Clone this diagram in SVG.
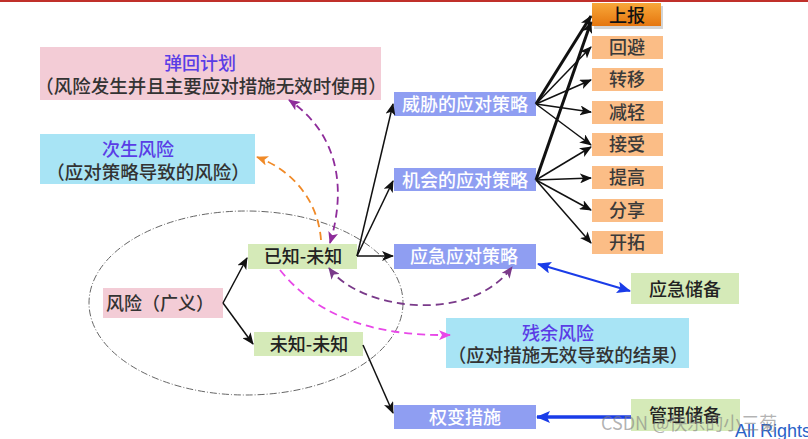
<svg xmlns="http://www.w3.org/2000/svg" width="808" height="439" viewBox="0 0 808 439">
<defs>
<style>
text{font-family:"Noto Sans CJK SC","Noto Sans",sans-serif;font-size:18px;text-anchor:middle;font-weight:500}
.blue rect{fill:#8f9ef2}
.blue text{fill:#fff}
.or rect{fill:#fbbd86}
.or text{fill:#3a3a3a}
.gr rect{fill:#d5eab8}
.gr text{fill:#222}
.pk{fill:#f3ccd6}
.lb{fill:#a8e4f5}
.ttl{fill:#5a3de6}
.sub{fill:#333;font-size:18.5px}
.c line{stroke:#111;stroke-width:1.5;marker-end:url(#ah)}
.c line.thick{stroke-width:3}
.d{fill:none;stroke-width:1.8;stroke-dasharray:8 5}
</style>
<marker id="ah" markerUnits="userSpaceOnUse" markerWidth="12" markerHeight="10" refX="11" refY="5" orient="auto-start-reverse"><path d="M0,0 L12,5 L0,10 L3,5 z" fill="#111"/></marker>
<marker id="ap" markerUnits="userSpaceOnUse" markerWidth="12" markerHeight="10" refX="11" refY="5" orient="auto-start-reverse"><path d="M0,0 L12,5 L0,10 L3,5 z" fill="#8e2c9a"/></marker>
<marker id="ap2" markerUnits="userSpaceOnUse" markerWidth="12" markerHeight="10" refX="11" refY="5" orient="auto-start-reverse"><path d="M0,0 L12,5 L0,10 L3,5 z" fill="#7a3a8a"/></marker>
<marker id="ao" markerUnits="userSpaceOnUse" markerWidth="12" markerHeight="10" refX="11" refY="5" orient="auto-start-reverse"><path d="M0,0 L12,5 L0,10 L3,5 z" fill="#f08a28"/></marker>
<marker id="am" markerUnits="userSpaceOnUse" markerWidth="12" markerHeight="10" refX="11" refY="5" orient="auto-start-reverse"><path d="M0,0 L12,5 L0,10 L3,5 z" fill="#e848e8"/></marker>
<marker id="ab" markerUnits="userSpaceOnUse" markerWidth="14" markerHeight="12" refX="13" refY="6" orient="auto-start-reverse"><path d="M0,0 L14,6 L0,12 L3,6 z" fill="#1a3ce8"/></marker>
<linearGradient id="og" x1="0" y1="0" x2="0" y2="1"><stop offset="0" stop-color="#f8a83a"/><stop offset="1" stop-color="#e5760f"/></linearGradient>
</defs>
<rect width="808" height="439" fill="#fff"/>
<rect x="0" y="0" width="808" height="2" fill="#c0302a"/>
<ellipse cx="246" cy="303" rx="157" ry="92" fill="none" stroke="#666" stroke-width="1" stroke-dasharray="7 2 1 2"/>

<g id="tanhui"><rect class="pk" x="40" y="47" width="341" height="53"/><text class="ttl" x="200" y="70">弹回计划</text><text class="sub" x="211" y="93">（风险发生并且主要应对措施无效时使用）</text></g>
<g id="cisheng"><rect class="lb" x="40" y="134" width="215" height="50"/><text class="ttl" x="138" y="156">次生风险</text><text class="sub" x="148" y="179">（应对策略导致的风险）</text></g>
<g id="canyu"><rect class="lb" x="446" y="318" width="243" height="50"/><text class="ttl" x="558" y="340">残余风险</text><text class="sub" x="568" y="362">（应对措施无效导致的结果）</text></g>
<g id="fengxian"><rect class="pk" x="103" y="288" width="120" height="30"/><text x="160" y="310" fill="#333">风险（广义）</text></g>
<g id="yizhi" class="gr"><rect x="248" y="244" width="109" height="25"/><text x="303" y="263">已知-未知</text></g>
<g id="weizhi" class="gr"><rect x="254" y="332" width="109" height="24"/><text x="309" y="351">未知-未知</text></g>
<g id="weixie" class="blue"><rect x="394" y="92" width="142" height="24"/><text x="465" y="111">威胁的应对策略</text></g>
<g id="jihui" class="blue"><rect x="394" y="168" width="142" height="23"/><text x="465" y="187">机会的应对策略</text></g>
<g id="yingji" class="blue"><rect x="394" y="244" width="142" height="25"/><text x="464" y="263">应急应对策略</text></g>
<g id="quanbian" class="blue"><rect x="394" y="405" width="142" height="24"/><text x="465" y="424">权变措施</text></g>
<g id="shangbao"><rect x="594" y="6" width="69" height="23" fill="#aaa" opacity="0.5"/><rect x="592" y="3" width="69" height="23" fill="url(#og)"/><text x="627" y="22" font-size="20" fill="#111">上报</text></g>
<g id="huibi" class="or"><rect x="592" y="36" width="71" height="23"/><text x="627" y="54">回避</text></g>
<g id="zhuanyi" class="or"><rect x="592" y="68" width="71" height="23"/><text x="627" y="86">转移</text></g>
<g id="jianqing" class="or"><rect x="592" y="101" width="71" height="23"/><text x="627" y="119">减轻</text></g>
<g id="jieshou" class="or"><rect x="592" y="133" width="71" height="23"/><text x="627" y="151">接受</text></g>
<g id="tigao" class="or"><rect x="592" y="166" width="71" height="23"/><text x="627" y="184">提高</text></g>
<g id="fenxiang" class="or"><rect x="592" y="199" width="71" height="23"/><text x="627" y="217">分享</text></g>
<g id="kaituo" class="or"><rect x="592" y="231" width="71" height="23"/><text x="627" y="249">开拓</text></g>
<g id="yingjichubei" class="gr"><rect x="631" y="273" width="108" height="31"/><text x="685" y="296">应急储备</text></g>
<g id="guanlichubei" class="gr"><rect x="631" y="399" width="109" height="32"/><text x="685" y="422">管理储备</text></g>

<g id="connectors" class="c">
<line x1="223" y1="303" x2="247" y2="258"/>
<line x1="223" y1="303" x2="253" y2="344"/>
<line x1="357" y1="256" x2="393" y2="104"/>
<line x1="357" y1="256" x2="393" y2="181"/>
<line x1="357" y1="256" x2="393" y2="256"/>
<line x1="363" y1="345" x2="393" y2="413"/>
<line class="thick" x1="536" y1="104" x2="591" y2="16"/>
<line x1="536" y1="104" x2="591" y2="47"/>
<line x1="536" y1="104" x2="591" y2="80"/>
<line x1="536" y1="104" x2="591" y2="112"/>
<line x1="536" y1="104" x2="591" y2="145"/>
<line class="thick" x1="536" y1="180" x2="591" y2="22"/>
<line x1="536" y1="180" x2="591" y2="147"/>
<line x1="536" y1="180" x2="591" y2="178"/>
<line x1="536" y1="180" x2="591" y2="210"/>
<line x1="536" y1="180" x2="591" y2="243"/>
<line x1="538" y1="264" x2="630" y2="291" style="stroke:#1a3ce8;stroke-width:2;marker-start:url(#ab);marker-end:url(#ab)"/>
<line x1="631" y1="417" x2="537" y2="417" style="stroke:#1a3ce8;stroke-width:3.5;marker-end:url(#ab)"/>
<path class="d" d="M330,243 C346,190 340,135 289,100" stroke="#8e2c9a" marker-start="url(#ap)" marker-end="url(#ap)"/>
<path class="d" d="M321,240 C318,200 292,170 257,157" stroke="#f08a28" marker-end="url(#ao)"/>
<path class="d" d="M329,268 C360,310 470,325 512,267" stroke="#7a3a8a" marker-start="url(#ap2)" marker-end="url(#ap2)"/>
<path class="d" d="M280,270 C320,320 380,336 450,335" stroke="#e848e8" marker-end="url(#am)"/>
</g>
<text x="735" y="437" font-size="13" fill="#2a62c8" style="text-anchor:start;font-weight:400;font-family:'Liberation Sans',sans-serif">All Rights Reserved</text>
<text x="601" y="430" font-size="20" fill="#808080" fill-opacity="0.6" style="text-anchor:start;font-weight:400">CSDN @快乐的小三菊</text>
</svg>
